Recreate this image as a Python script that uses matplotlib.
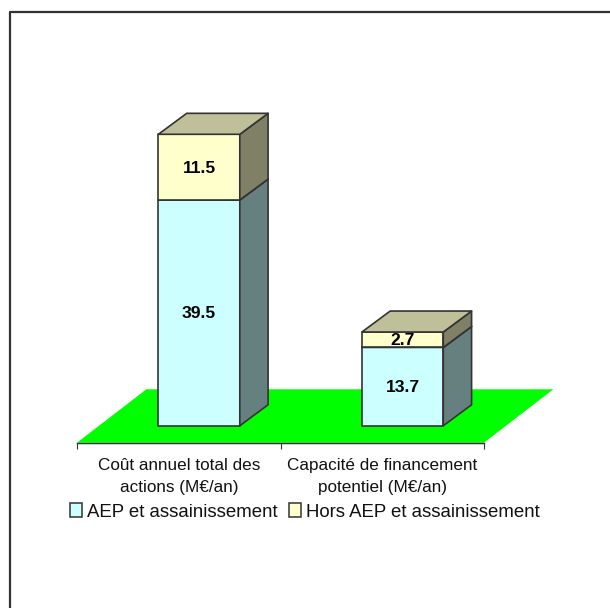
import matplotlib
matplotlib.use('Agg')
import matplotlib.pyplot as plt
from matplotlib.lines import Line2D
from matplotlib.patches import Polygon, Patch

plt.rcParams['font.family'] = ['Liberation Sans', 'DejaVu Sans']

categories = ['Coût annuel total des\nactions (M€/an)', 'Capacité de financement\npotentiel (M€/an)']
aep = [39.5, 13.7]
hors_aep = [11.5, 2.7]
series_names = ['AEP et assainissement', 'Hors AEP et assainissement']

EDGE = '#333333'
W, H = 610, 608

fig = plt.figure(figsize=(W / 100, H / 100), dpi=100)
# chart border: only the top and left sides fall inside the image
fig.add_artist(Line2D([9.7 / W, 9.7 / W, 1], [0, 1 - 11.7 / H, 1 - 11.7 / H], color='#333333', lw=1.6,
                      transform=fig.transFigure))

# axes covers the front floor edge, 2 categories wide, value 0 on the floor line
ax = fig.add_axes([77 / W, (H - 442.7) / H, 407 / W, 400 / H])
ax.set_xlim(0, 2)
ax.set_ylim(0, 70)
ax.patch.set_visible(False)
for s in ['top', 'right']:
    ax.spines[s].set_visible(False)
ax.spines['left'].set_visible(False)
ax.spines['bottom'].set_color('#333333')
ax.set_yticks([])
ax.set_xticks([0, 1, 2])
ax.set_xticklabels([])
ax.tick_params(axis='x', length=4.5, width=0.8, color='#333333')

# floor
floor_dx, floor_dy = 0.341, 9.35
ax.add_patch(Polygon([(0, 0), (2, 0), (2 + floor_dx, floor_dy), (floor_dx, floor_dy)],
                     fc='#00FF00', ec='none', clip_on=False, zorder=1))
ax.plot([0, 2], [0, 0], color='#333333', lw=1, clip_on=False, zorder=2)


def box(x, bottom, top, colors):
    # front, side and top faces of one stacked segment
    front, side, lid = colors
    w = 0.4
    sx, sy = 0.1, 2.97   # bar set back from the floor edge
    dx, dy = 0.139, 3.67   # bar depth
    x0 = x - w / 2 + sx
    x1 = x + w / 2 + sx
    y0 = bottom + sy
    y1 = top + sy
    kw = dict(ec=EDGE, lw=1.2, joinstyle='round', clip_on=False, zorder=3)
    ax.add_patch(Polygon([(x0, y0), (x1, y0), (x1, y1), (x0, y1)], fc=front, **kw))
    ax.add_patch(Polygon([(x1, y0), (x1 + dx, y0 + dy), (x1 + dx, y1 + dy), (x1, y1)], fc=side, **kw))
    ax.add_patch(Polygon([(x0, y1), (x1, y1), (x1 + dx, y1 + dy), (x0 + dx, y1 + dy)], fc=lid, **kw))
    return x + sx, (y0 + y1) / 2 - 0.17


cyan = ('#CCFFFF', '#668080', '#99BFBF')
yellow = ('#FFFFCC', '#808066', '#BFBF99')
for i, cat in enumerate(categories):
    xc = i + 0.5
    tx, ty = box(xc, 0, aep[i], cyan)
    ax.text(tx, ty, '%.1f' % aep[i], ha='center', va='center', fontsize=12.6, fontweight='bold', color='black', zorder=5)
    tx, ty = box(xc, aep[i], aep[i] + hors_aep[i], yellow)
    ax.text(tx, ty, '%.1f' % hors_aep[i], ha='center', va='center', fontsize=12.6, fontweight='bold', color='black', zorder=5)
    ax.text(xc, -2.65, cat, ha='center', va='top', fontsize=12.3, color='#111111', linespacing=1.56, clip_on=False)

handles = [Patch(fc='#CCFFFF', ec=EDGE, lw=1.1), Patch(fc='#FFFFCC', ec=EDGE, lw=1.1)]
fig.legend(handles, series_names, loc='center', bbox_to_anchor=(305 / W, (H - 512) / H), ncol=2, frameon=False,
           fontsize=13.4, handlelength=0.65, handleheight=0.7, handletextpad=0.28, columnspacing=0.6,
           labelcolor='#111111', borderpad=0)

fig.savefig('out.png', dpi=100)
